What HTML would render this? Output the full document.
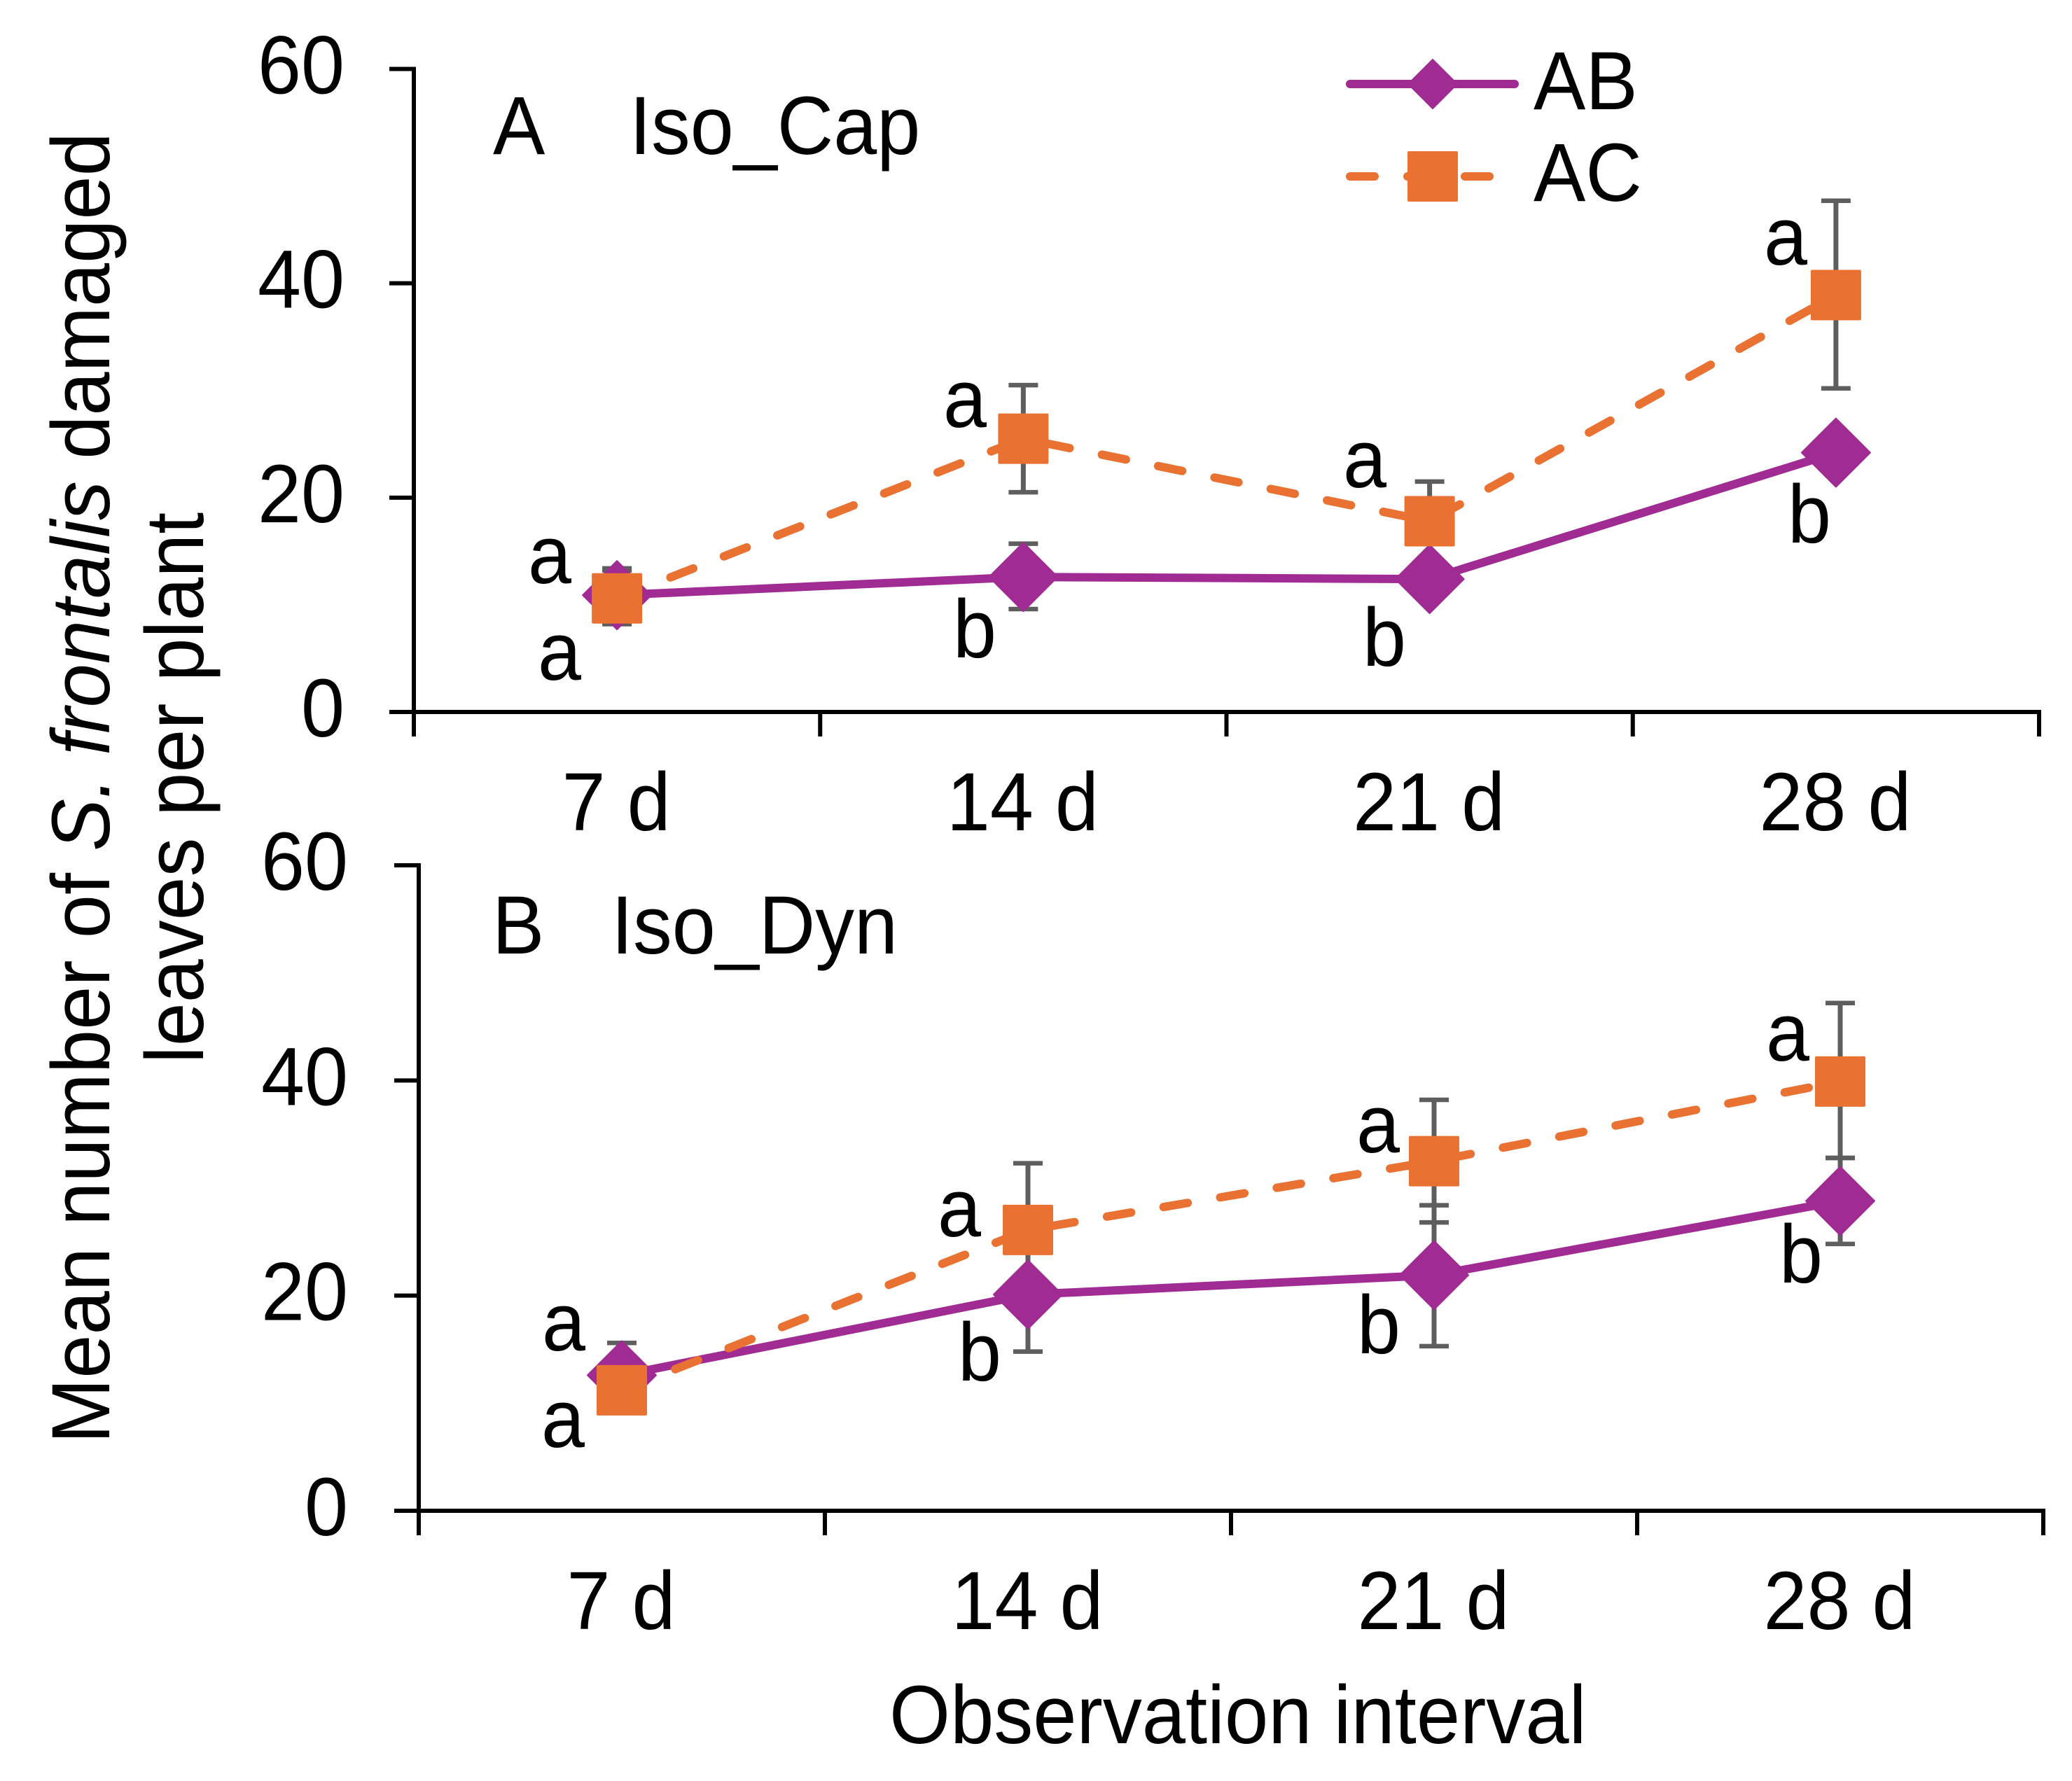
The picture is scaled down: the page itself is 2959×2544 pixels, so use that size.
<!DOCTYPE html>
<html lang="en">
<head>
<meta charset="utf-8">
<title>Mean number of S. frontalis damaged leaves per plant</title>
<style>
html,body{margin:0;padding:0;background:#fff;}
svg{display:block;}
text{font-family:"Liberation Sans",Arial,sans-serif;fill:#000;font-size:118px;}
</style>
</head>
<body>
<svg id="chart" xmlns="http://www.w3.org/2000/svg" width="2959" height="2544" viewBox="0 0 2959 2544">
  <rect x="0" y="0" width="2959" height="2544" fill="#ffffff"/>
  <text transform="translate(156 2062) rotate(-90) scale(1.004 1)">Mean number of <tspan font-style="italic">S. frontalis</tspan> damaged</text>
  <text transform="translate(290 1519) rotate(-90)">leaves per plant</text>
  <text transform="translate(1270 2490) scale(1.004 1)">Observation interval</text>

  <text x="704" y="220">A</text>
  <text x="899" y="220">Iso_Cap</text>
  <text x="703" y="1362">B</text>
  <text x="873" y="1362">Iso_Dyn</text>

  <g id="panelA"></g>
  <g id="panelB"></g>

  <g text-anchor="middle">
    <text x="785" y="833">a</text>
    <text x="799" y="971">a</text>
    <text x="1378" y="610">a</text>
    <text x="1392" y="939">b</text>
    <text x="1949" y="696">a</text>
    <text x="1977" y="951">b</text>
    <text x="2550" y="378">a</text>
    <text x="2584" y="775">b</text>
    <text x="805" y="1929">a</text>
    <text x="804" y="2067">a</text>
    <text x="1370" y="1766">a</text>
    <text x="1399" y="1972">b</text>
    <text x="1968" y="1646">a</text>
    <text x="1969" y="1933">b</text>
    <text x="2553" y="1515">a</text>
    <text x="2572" y="1832">b</text>
  </g>

  <g>
    <g>
      <line x1="1928" y1="120" x2="2163" y2="120" stroke="#A02B93" stroke-width="12" stroke-linecap="round"/>
      <polygon points="2046,85 2081,120 2046,155 2011,120" fill="#A02B93" stroke="#A02B93" stroke-width="2" stroke-linejoin="round"/>
      <text x="2190" y="156">AB</text>
    </g>
    <g>
      <line x1="1928" y1="252" x2="1963" y2="252" stroke="#E97132" stroke-width="12" stroke-linecap="round"/>
      <line x1="2010" y1="252" x2="2045" y2="252" stroke="#E97132" stroke-width="12" stroke-linecap="round"/>
      <line x1="2092" y1="252" x2="2127" y2="252" stroke="#E97132" stroke-width="12" stroke-linecap="round"/>
      <rect x="2010" y="216" width="72" height="72" rx="2" fill="#E97132"/>
      <text x="2190" y="287">AC</text>
    </g>
  </g>
</svg>
<script>
var categories = ['7 d', '14 d', '21 d', '28 d'];
var yTicks = [0, 20, 40, 60];

var capAB = [10.9, 12.6, 12.4, 24.2];
var capABUpper = [13.2, 15.7, 13.9, 25.7];
var capABLower = [8.6, 9.6, 10.9, 22.7];
var capAC = [10.6, 25.5, 17.8, 38.9];
var capACUpper = [13.4, 30.5, 21.5, 47.7];
var capACLower = [8.2, 20.5, 14.1, 30.2];

var dynAB = [12.6, 20.1, 21.9, 28.8];
var dynABUpper = [15.6, 25.4, 28.4, 32.8];
var dynABLower = [9.6, 14.8, 15.3, 24.8];
var dynAC = [11.2, 26.1, 32.5, 39.9];
var dynACUpper = [13.2, 32.3, 38.2, 47.2];
var dynACLower = [9.2, 19.8, 26.8, 32.8];

var PURPLE = '#A02B93';
var ORANGE = '#E97132';
var GREY = '#5e5e5e';
var SVGNS = 'http://www.w3.org/2000/svg';
var TEXT_WIDTH_SCALE = 0.945;

function make(parent, tag, attrs, content) {
  var node = document.createElementNS(SVGNS, tag);
  for (var k in attrs) { node.setAttribute(k, attrs[k]); }
  if (content !== undefined) { node.textContent = content; }
  parent.appendChild(node);
  return node;
}

function drawPanel(g, prefix, box, abVals, abUp, abLo, acVals, acUp, acLo) {
  var yMax = yTicks[yTicks.length - 1];
  function yScale(v) { return box.y0 - (v / yMax) * (box.y0 - box.yTop); }
  function xScale(i) { return box.left + (i + 0.5) * (box.right - box.left) / categories.length; }
  function xEdge(i) { return box.left + i * (box.right - box.left) / categories.length; }
  var el;

  // y axis
  el = make(g, 'line', {x1: box.left, y1: yScale(yMax) - 3, x2: box.left, y2: box.y0 + 35, stroke: '#000', 'stroke-width': 6});
  
  
  yTicks.forEach(function (t) {
    var tick = make(g, 'line', {x1: box.left - 35, y1: yScale(t), x2: box.left, y2: yScale(t), stroke: '#000', 'stroke-width': 6});
    
    
    var label = make(g, 'text', {x: box.labelRight, y: yScale(t) + 35, 'text-anchor': 'end'}, String(t));
    
    
  });

  // x axis
  el = make(g, 'line', {x1: box.left - 35, y1: box.y0, x2: box.right + 3, y2: box.y0, stroke: '#000', 'stroke-width': 6});
  
  
  for (var e = 0; e <= categories.length; e++) {
    var xt = make(g, 'line', {x1: xEdge(e), y1: box.y0, x2: xEdge(e), y2: box.y0 + 35, stroke: '#000', 'stroke-width': 6});
    
    
  }
  categories.forEach(function (c, i) {
    var label = make(g, 'text', {x: xScale(i) - 1, y: box.y0 + 169, 'text-anchor': 'middle'}, c);
    
    
  });

  // error bars
  function errorBars(up, lo, name) {
    up.forEach(function (u, i) {
      var x = xScale(i), yu = yScale(u), yl = yScale(lo[i]);
      var stem = make(g, 'line', {x1: x, y1: yu, x2: x, y2: yl, stroke: GREY, 'stroke-width': 7});
      
      
      var capTop = make(g, 'line', {x1: x - 21, y1: yu, x2: x + 21, y2: yu, stroke: GREY, 'stroke-width': 6.5});
      
      
      var capBottom = make(g, 'line', {x1: x - 21, y1: yl, x2: x + 21, y2: yl, stroke: GREY, 'stroke-width': 6.5});
      
      
    });
  }
  errorBars(abUp, abLo, 'ab');
  errorBars(acUp, acLo, 'ac');

  // AB series
  var abPts = abVals.map(function (v, i) { return xScale(i) + ',' + yScale(v); }).join(' ');
  el = make(g, 'polyline', {points: abPts, fill: 'none', stroke: PURPLE, 'stroke-width': 12, 'stroke-linecap': 'round', 'stroke-linejoin': 'round'});
  
  

  // AC series
  var acPts = acVals.map(function (v, i) { return xScale(i) + ',' + yScale(v); }).join(' ');
  el = make(g, 'polyline', {points: acPts, fill: 'none', stroke: ORANGE, 'stroke-width': 12, 'stroke-linecap': 'round', 'stroke-linejoin': 'round', 'stroke-dasharray': '35 47'});
  
  

  // markers
  abVals.forEach(function (v, i) {
    var x = xScale(i), y = yScale(v), r = 49;
    var d = make(g, 'polygon', {points: (x) + ',' + (y - r) + ' ' + (x + r) + ',' + y + ' ' + x + ',' + (y + r) + ' ' + (x - r) + ',' + y, fill: PURPLE, stroke: PURPLE, 'stroke-width': 2, 'stroke-linejoin': 'round'});
    
    
  });
  acVals.forEach(function (v, i) {
    var x = xScale(i), y = yScale(v), s = 72;
    var sq = make(g, 'rect', {x: x - s / 2, y: y - s / 2, width: s, height: s, rx: 2, fill: ORANGE});
    
    
  });
}

drawPanel(document.getElementById('panelA'), 'panel-a',
  {left: 591, right: 2912, y0: 1017, yTop: 98.5, labelRight: 492},
  capAB, capABUpper, capABLower, capAC, capACUpper, capACLower);
drawPanel(document.getElementById('panelB'), 'panel-b',
  {left: 598, right: 2918, y0: 2158, yTop: 1236, labelRight: 497},
  dynAB, dynABUpper, dynABLower, dynAC, dynACUpper, dynACLower);

// The reference text is slightly condensed: keep the glyph height, narrow the advance.
Array.prototype.forEach.call(document.querySelectorAll('#chart text'), function (t) {
  var existing = t.getAttribute('transform');
  if (existing) {
    t.setAttribute('transform', existing + ' scale(' + TEXT_WIDTH_SCALE + ' 1)');
  } else {
    var tx = t.getAttribute('x');
    var ty = t.getAttribute('y');
    t.removeAttribute('x');
    t.removeAttribute('y');
    t.setAttribute('transform', 'translate(' + tx + ' ' + ty + ') scale(' + TEXT_WIDTH_SCALE + ' 1)');
  }
});
</script>
</body>
</html>
